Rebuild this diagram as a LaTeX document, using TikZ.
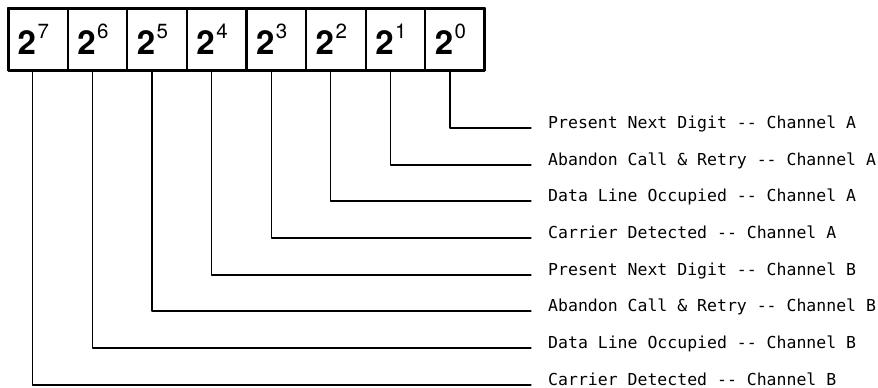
\documentclass[tikz,border=0pt]{standalone}
\usepackage{fontspec}
\setmainfont{TeX Gyre Heros}
\newfontfamily\labelfont{DejaVu Sans Mono}[Ligatures=TeXOff]
\usetikzlibrary{positioning}

\tikzset{
  bitcell/.style={draw, line width=2.2pt, minimum width=59.6pt, minimum height=62pt,
                  inner sep=0pt, outer sep=0pt},
  bitlabel/.style={anchor=base west, inner sep=0pt, font=\labelfont\fontsize{16.5}{18}\selectfont},
  lead/.style={line width=1.2pt}
}
% power of two in a register cell
\newcommand{\bitval}[1]{{\fontsize{33}{33}\selectfont\bfseries 2}\kern1.5pt\raisebox{16pt}{\fontsize{20.5}{20}\selectfont #1}\kern9pt}

\begin{document}
\begin{tikzpicture}[x=1pt, y=-1pt, line join=round, line cap=round]

  \useasboundingbox (0,0) rectangle (878,388);

  % the register, bit 7 on the left
  \node[bitcell] (b7) at (37.8,39) {\bitval{7}};
  \node[bitcell, right=0pt of b7] (b6) {\bitval{6}};
  \node[bitcell, right=0pt of b6] (b5) {\bitval{5}};
  \node[bitcell, right=0pt of b5] (b4) {\bitval{4}};
  \node[bitcell, right=0pt of b4] (b3) {\bitval{3}};
  \node[bitcell, right=0pt of b3] (b2) {\bitval{2}};
  \node[bitcell, right=0pt of b2] (b1) {\bitval{1}};
  \node[bitcell, right=0pt of b1] (b0) {\bitval{0}};
  \draw[line width=3pt] (b7.north west) rectangle (b0.south east);

  % bit meanings
  \node[bitlabel] (l0) at (548,128) {Present Next Digit -- Channel A};
  \node[bitlabel] (l1) at (548,165) {Abandon Call \& Retry -- Channel A};
  \node[bitlabel] (l2) at (548,201) {Data Line Occupied -- Channel A};
  \node[bitlabel] (l3) at (548,238) {Carrier Detected -- Channel A};
  \node[bitlabel] (l4) at (548,275) {Present Next Digit -- Channel B};
  \node[bitlabel] (l5) at (548,311) {Abandon Call \& Retry -- Channel B};
  \node[bitlabel] (l6) at (548,348) {Data Line Occupied -- Channel B};
  \node[bitlabel] (l7) at (548,385) {Carrier Detected -- Channel B};

  % leads from each bit down and across
  \draw[lead] ([xshift=-5pt]b0.south) |- ([xshift=-17pt]l0.base west);
  \draw[lead] ([xshift=-5pt]b1.south) |- ([xshift=-17pt]l1.base west);
  \draw[lead] ([xshift=-5pt]b2.south) |- ([xshift=-17pt]l2.base west);
  \draw[lead] ([xshift=-5pt]b3.south) |- ([xshift=-17pt]l3.base west);
  \draw[lead] ([xshift=-5pt]b4.south) |- ([xshift=-17pt]l4.base west);
  \draw[lead] ([xshift=-5pt]b5.south) |- ([xshift=-17pt]l5.base west);
  \draw[lead] ([xshift=-5pt]b6.south) |- ([xshift=-17pt]l6.base west);
  \draw[lead] ([xshift=-5pt]b7.south) |- ([xshift=-17pt]l7.base west);

\end{tikzpicture}
\end{document}
